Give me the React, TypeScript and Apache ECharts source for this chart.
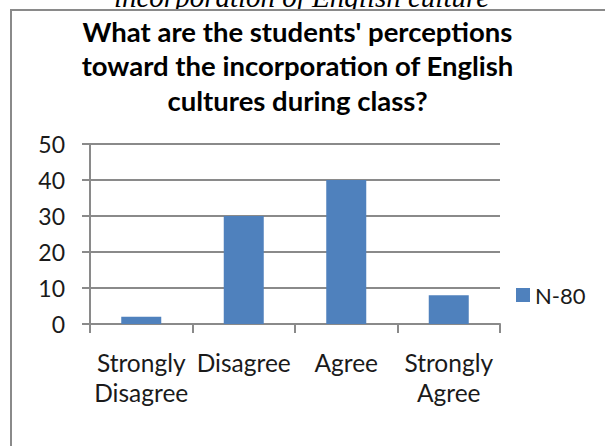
import React, { useEffect, useRef } from "react";
import * as echarts from "echarts";

const categories = ["Strongly\nDisagree", "Disagree", "Agree", "Strongly\nAgree"];
const seriesName = "N-80";
const values = [2, 30, 40, 8];
const yTicks = [0, 10, 20, 30, 40, 50];
const titleLines = [
  "What are the students' perceptions",
  "toward the incorporation of English",
  "cultures during class?",
];
const captionAbove = "incorporation of English culture";

export default function App() {
  const ref = useRef<HTMLDivElement>(null);
  useEffect(() => {
    if (!ref.current) return;
    const chart = echarts.init(ref.current, null, { renderer: "svg" });
    const gray = "#8a8a8a";
    chart.setOption({
      animation: false,
      backgroundColor: "#ffffff",
      title: {
        text: titleLines.join("\n"),
        left: 297.5,
        top: 14,
        textAlign: "center",
        padding: 0,
        textStyle: {
          fontFamily: "Lato",
          fontWeight: "bold",
          fontSize: 27.5,
          lineHeight: 34.5,
          color: "#000000",
        },
      },
      legend: {
        data: [seriesName],
        left: 516,
        top: 284,
        padding: 0,
        icon: "rect",
        itemWidth: 14,
        itemHeight: 14,
        itemGap: 5,
        textStyle: { fontFamily: "Lato", fontSize: 22, color: "#1a1a1a" },
      },
      graphic: [
        {
          type: "text",
          z: -20,
          style: {
            text: captionAbove,
            x: 301.5,
            y: 11,
            textAlign: "center",
            textVerticalAlign: "bottom",
            font: "italic 29px 'Liberation Serif'",
            fill: "#000000",
          },
        },
        {
          type: "rect",
          z: -10,
          shape: { x: 11, y: 10, width: 700, height: 500 },
          style: { fill: "#ffffff", stroke: gray, lineWidth: 2 },
        },
      ],
      grid: { left: 90, right: 105, top: 144, bottom: 122, containLabel: false },
      xAxis: {
        type: "category",
        data: categories,
        axisLine: { lineStyle: { color: gray, width: 2 } },
        axisTick: { show: true, length: 9, lineStyle: { color: gray, width: 2 } },
        axisLabel: {
          interval: 0,
          margin: 23,
          fontFamily: "Lato",
          fontSize: 24.5,
          lineHeight: 30,
          color: "#1a1a1a",
        },
      },
      yAxis: {
        type: "value",
        min: yTicks[0],
        max: yTicks[yTicks.length - 1],
        interval: 10,
        axisLine: { show: true, lineStyle: { color: gray, width: 2 } },
        axisTick: { show: true, length: 8, lineStyle: { color: gray, width: 2 } },
        splitLine: { lineStyle: { color: gray, width: 2 } },
        axisLabel: {
          margin: 25,
          fontFamily: "Lato",
          fontSize: 23,
          color: "#1a1a1a",
        },
      },
      series: [
        {
          name: seriesName,
          type: "bar",
          data: values,
          barWidth: 40,
          z: 3,
          itemStyle: { color: "#4F81BD" },
        },
      ],
    });
    return () => chart.dispose();
  }, []);
  return (
    <div
      ref={ref}
      style={{ position: "absolute", left: 0, top: 0, width: 605, height: 446 }}
    />
  );
}
